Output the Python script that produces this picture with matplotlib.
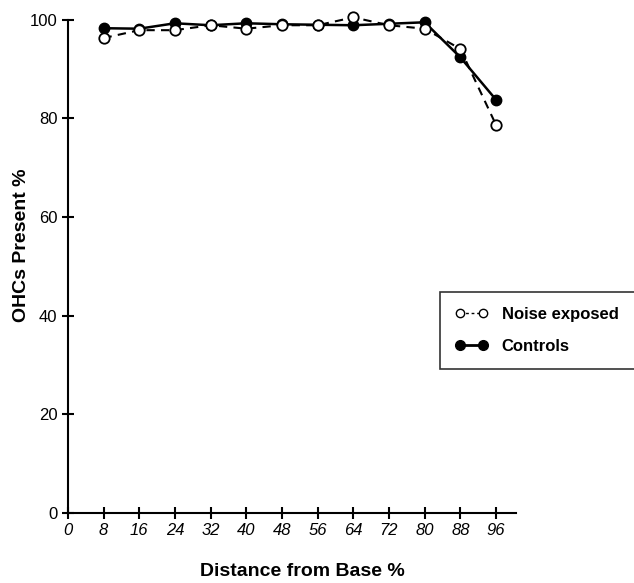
import matplotlib
matplotlib.use("Agg")
import matplotlib.pyplot as plt
from matplotlib.lines import Line2D

# distance from base (%) and outer hair cell survival (%)
distance = [8, 16, 24, 32, 40, 48, 56, 64, 72, 80, 88, 96]
noise_exposed = [96.3, 97.9, 97.9, 98.9, 98.2, 98.9, 98.9, 100.5, 98.9, 98.2, 94.1, 78.7]
controls = [98.3, 98.2, 99.3, 98.9, 99.3, 99.1, 99.0, 98.9, 99.2, 99.5, 92.4, 83.8]

x_ticks = [0, 8, 16, 24, 32, 40, 48, 56, 64, 72, 80, 88, 96]
y_ticks = [0, 20, 40, 60, 80, 100]

plt.rcParams['font.family'] = ['Liberation Sans', 'DejaVu Sans']

fig = plt.figure(figsize=(6.34, 5.83), dpi=100)
ax = fig.add_axes([0.107, 0.120, 0.707, 0.846])

ax.plot(distance, controls, color='black', linestyle='-', linewidth=1.8,
        marker='o', markersize=7.5, markerfacecolor='black',
        markeredgecolor='black', zorder=3, clip_on=False)
ax.plot(distance, noise_exposed, color='black', linestyle=(0, (4, 3)), linewidth=1.5,
        marker='o', markersize=7.5, markerfacecolor='white',
        markeredgecolor='black', markeredgewidth=1.3, zorder=4, clip_on=False)

ax.set_xlim(0, 100.5)
ax.set_ylim(0, 100)
ax.set_xticks(x_ticks)
ax.set_yticks(y_ticks)
ax.set_xticklabels([str(t) for t in x_ticks], fontstyle='italic', fontsize=12)
ax.set_yticklabels([str(t) for t in y_ticks], fontsize=12)
ax.tick_params(direction='inout', length=9, width=1.5, pad=3)
for s in ['top', 'right']:
    ax.spines[s].set_visible(False)
for s in ['left', 'bottom']:
    ax.spines[s].set_linewidth(1.5)
ax.spines['left'].set_bounds(0, 100)

# axis titles placed where the original has them
fig.text(302 / 634, 1 - 571 / 583, "Distance from Base %", fontsize=14,
         fontweight='bold', ha='center', va='center')
fig.text(22 / 634, 1 - 245 / 583, "OHCs Present %", fontsize=14,
         fontweight='bold', ha='center', va='center', rotation=90)

handles = [
    Line2D([], [], color='black', linestyle=(0, (2, 2)), linewidth=1.0, marker='o',
           markersize=6, markerfacecolor='white', markeredgecolor='black'),
    Line2D([], [], color='black', linestyle='-', linewidth=2.0, marker='o',
           markersize=7, markerfacecolor='black', markeredgecolor='black'),
]
leg = fig.legend(handles, ["Noise exposed", "Controls"], loc='upper left',
                 bbox_to_anchor=(0.694, 0.499, 0.33, 0.0), mode='expand',
                 borderaxespad=0, numpoints=2, handlelength=2.0, fontsize=12,
                 fancybox=False, edgecolor='black', borderpad=0.9,
                 labelspacing=1.0)
leg.get_frame().set_linewidth(1.2)
for t in leg.get_texts():
    t.set_fontweight('bold')

fig.savefig("out.png", dpi=100)
